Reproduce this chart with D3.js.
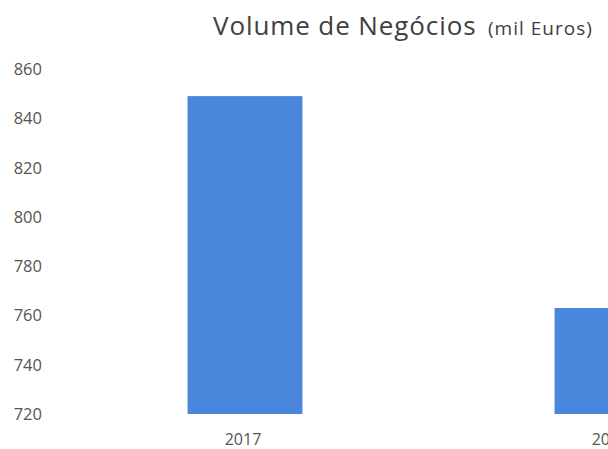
<!DOCTYPE html>
<html>
<head>
<meta charset="utf-8">
<script src="https://cdn.jsdelivr.net/npm/d3@7"></script>
<style>
  body { margin: 0; background: #fff; }
  svg { display: block; }
</style>
</head>
<body>
<div id="chart"></div>
<script>
var years = ["2017", "2018"];
var volumes = [849, 763];
var yTicks = [720, 740, 760, 780, 800, 820, 840, 860];

var width = 608, height = 449;

var svg = d3.select("#chart")
    .append("svg")
    .attr("width", width)
    .attr("height", height);

// title
var title = svg.append("text")
    .attr("x", 213)
    .attr("y", 35)
    .style("font-family", "'Open Sans', sans-serif")
    .style("fill", "#404040");
title.append("tspan")
    .style("font-size", "26px")
    .style("letter-spacing", "0.9px")
    .text("Volume de Negócios");
title.append("tspan")
    .attr("x", 488)
    .style("font-size", "19px")
    .style("letter-spacing", "1px")
    .text("(mil Euros)");

var x = d3.scaleBand()
    .domain(years)
    .range([61.5, 795.5])
    .paddingInner(0.687)
    .paddingOuter(0.3435);

var y = d3.scaleLinear()
    .domain([720, 860])
    .range([414, 69]);

// y labels
svg.append("g")
    .selectAll("text")
    .data(yTicks)
    .enter()
    .append("text")
    .attr("x", 42)
    .attr("y", function (d) { return y(d); })
    .attr("dy", "0.36em")
    .attr("text-anchor", "end")
    .style("font-family", "'Open Sans', sans-serif")
    .style("font-size", "16.5px")
    .style("fill", "#555")
    .text(function (d) { return d; });

// bars
svg.selectAll("rect.bar")
    .data(years)
    .enter()
    .append("rect")
    .attr("class", "bar")
    .attr("x", function (d) { return x(d); })
    .attr("width", x.bandwidth())
    .attr("y", function (d, i) { return y(volumes[i]); })
    .attr("height", function (d, i) { return y(720) - y(volumes[i]); })
    .style("fill", "#4a86dc");

// x labels
svg.append("g")
    .selectAll("text")
    .data(years)
    .enter()
    .append("text")
    .attr("x", function (d) { return x(d) + x.bandwidth() / 2 - 2; })
    .attr("y", 445)
    .attr("text-anchor", "middle")
    .style("font-family", "'Open Sans', sans-serif")
    .style("font-size", "16px")
    .style("fill", "#555")
    .text(function (d) { return d; });
</script>
</body>
</html>
